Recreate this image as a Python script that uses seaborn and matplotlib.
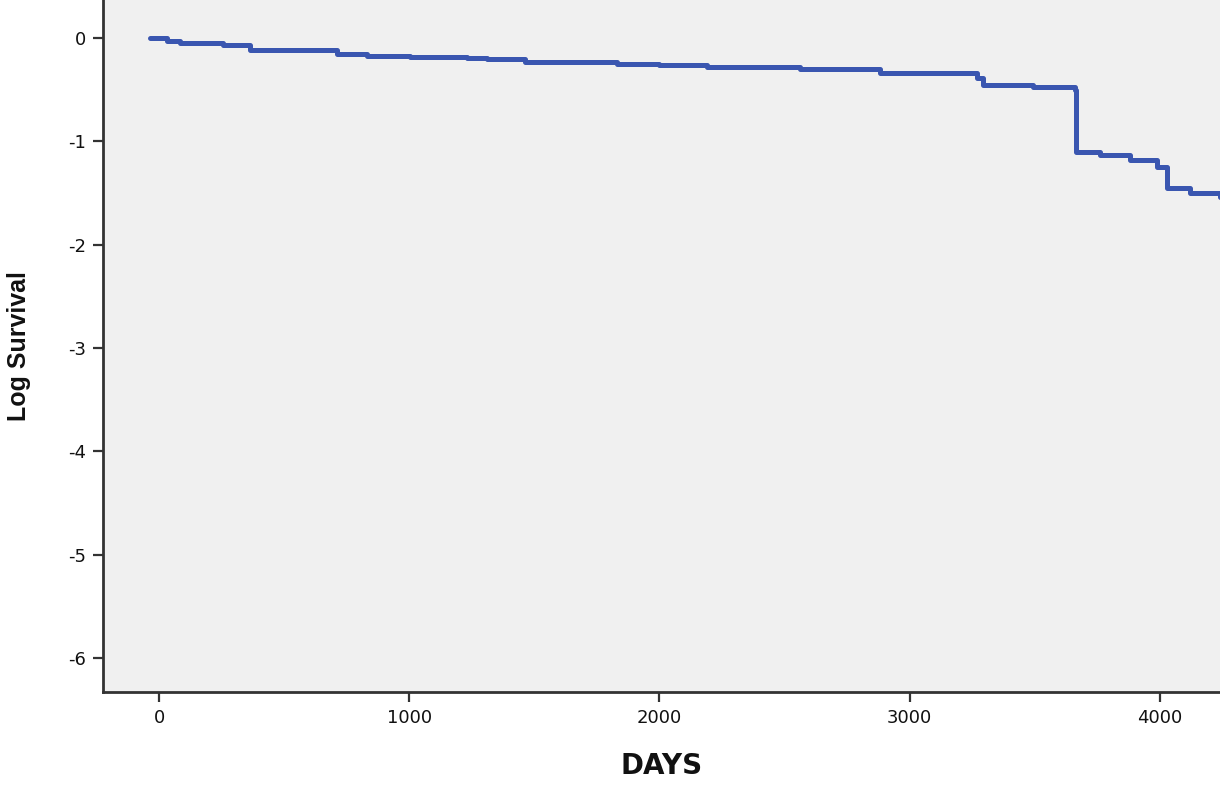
import pandas as pd
import matplotlib.pyplot as plt
import seaborn as sns

# Waktu (hari) dan log survival
days = [-36, 32, 84, 256, 364, 711, 830, 1003, 1230, 1310, 1430,
        1462, 1830, 2000, 2190, 2560, 2880, 3268, 3293, 3492, 3660,
        3665, 3760, 3880, 3987, 4027, 4119, 4240]
log_survival = [0.0, -0.03, -0.045, -0.07, -0.115, -0.15, -0.17, -0.18, -0.19, -0.2, -0.205,
                -0.23, -0.25, -0.26, -0.28, -0.295, -0.34, -0.39, -0.455, -0.477, -0.497,
                -1.10, -1.13, -1.18, -1.25, -1.455, -1.50, -1.535]

x_ticks = [0, 1000, 2000, 3000, 4000]
y_ticks = [0, -1, -2, -3, -4, -5, -6]

data = pd.DataFrame({"DAYS": days, "Log Survival": log_survival})

sns.set_style("ticks")
plt.rcParams["axes.unicode_minus"] = False
plt.rcParams["font.family"] = ["DejaVu Sans"]

fig = plt.figure(figsize=(12.2, 7.85), dpi=100)
ax = fig.add_axes([0.0844, 0.1185, 0.9156, 0.8815])
ax.set_facecolor("#F0F0F0")

sns.lineplot(data=data, x="DAYS", y="Log Survival", ax=ax,
             color="#3A56B0", linewidth=3.6, drawstyle="steps-post")

ax.set_xlim(-224, 4240)
ax.set_ylim(-6.33, 0.37)
ax.set_xticks(x_ticks)
ax.set_yticks(y_ticks)
ax.tick_params(axis="both", labelsize=13, length=7, width=1.6, color="#333333",
               labelcolor="#111111", direction="out", pad=5)
for s in ["top", "right"]:
    ax.spines[s].set_visible(False)
for s in ["left", "bottom"]:
    ax.spines[s].set_linewidth(2)
    ax.spines[s].set_color("#333333")

ax.set_xlabel("DAYS", fontsize=20, fontweight="bold", labelpad=18, color="#111111")
ax.set_ylabel("Log Survival", fontsize=18, fontweight="bold", labelpad=27, color="#111111",
              family=["Liberation Sans Narrow", "Liberation Sans", "DejaVu Sans"])

fig.savefig("out.png", dpi=100)
